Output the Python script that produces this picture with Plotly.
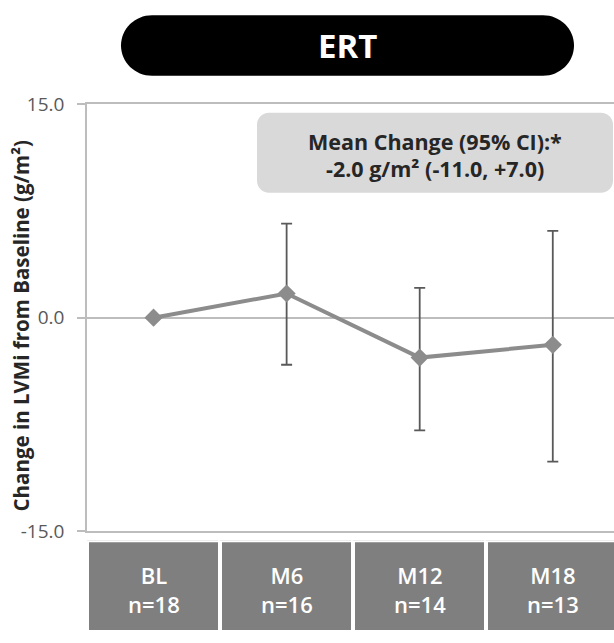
import plotly.graph_objects as go

# ---------------- data ----------------
categories = ["BL", "M6", "M12", "M18"]
n_values = [18, 16, 14, 13]
mean_change = [0.0, 1.7, -2.8, -1.9]
ci_upper = [0.0, 6.6, 2.1, 6.1]
ci_lower = [0.0, -3.3, -7.9, -10.1]
y_ticks = [-15, 0, 15]
y_tick_labels = ["-15.0", "0.0", "15.0"]
panel_title = "ERT"
y_title = "Change in LVMi from Baseline (g/m²)"
summary_line1 = "Mean Change (95% CI):*"
summary_line2 = "-2.0 g/m² (-11.0, +7.0)"

err_plus = [u - m for u, m in zip(ci_upper, mean_change)]
err_minus = [m - l for m, l in zip(mean_change, ci_lower)]

# ---------------- layout helpers ----------------
W, H = 614, 643
ML, MR, MT, MB = 87, 0, 104, 0
PW, PH = W - ML - MR, H - MT - MB
FONT = "Open Sans"


def px(x):
    return (x - ML) / PW


def py(y):
    return (H - MB - y) / PH


def rounded_rect_path(x0, y0, x1, y1, r):
    k = 0.5523 * r
    pts = [
        ("M", [(x0 + r, y0)]),
        ("L", [(x1 - r, y0)]),
        ("C", [(x1 - r + k, y0), (x1, y0 + r - k), (x1, y0 + r)]),
        ("L", [(x1, y1 - r)]),
        ("C", [(x1, y1 - r + k), (x1 - r + k, y1), (x1 - r, y1)]),
        ("L", [(x0 + r, y1)]),
        ("C", [(x0 + r - k, y1), (x0, y1 - r + k), (x0, y1 - r)]),
        ("L", [(x0, y0 + r)]),
        ("C", [(x0, y0 + r - k), (x0 + r - k, y0), (x0 + r, y0)]),
    ]
    s = ""
    for cmd, ps in pts:
        s += cmd + " " + " ".join(f"{px(a):.5f},{py(b):.5f}" for a, b in ps) + " "
    return s + "Z"


main_bottom = 542
box_top = 551

fig = go.Figure()

# Category label boxes (lower subplot)
fig.add_trace(go.Bar(
    x=categories, y=[1] * len(categories), base=0, width=1,
    marker=dict(color="#7f7f7f", line=dict(color="white", width=4)),
    xaxis="x2", yaxis="y2", hoverinfo="skip", showlegend=False,
))

# Main line with asymmetric CI error bars
fig.add_trace(go.Scatter(
    x=categories, y=mean_change, mode="lines+markers",
    line=dict(color="#8c8c8c", width=4),
    marker=dict(symbol="diamond", size=14, color="#8c8c8c"),
    error_y=dict(type="data", symmetric=False, array=err_plus, arrayminus=err_minus,
                 color="#595959", thickness=1.8, width=5.5),
    showlegend=False,
))

annotations = []
for c, n in zip(categories, n_values):
    annotations.append(dict(
        x=c, y=0.47, xref="x2", yref="y2", text=f"{c}<br>n={n}", showarrow=False,
        font=dict(family=FONT, size=22, color="white", weight=600), align="center",
        xanchor="center", yanchor="middle",
    ))

annotations.append(dict(
    x=px(347.5), y=py(44), xref="paper", yref="paper", text=f"<b>{panel_title}</b>",
    showarrow=False, font=dict(family=FONT, size=33, color="white"),
    xanchor="center", yanchor="middle",
))

annotations.append(dict(
    x=px(435), y=py(142), xref="paper", yref="paper", text=f"<b>{summary_line1}</b>",
    showarrow=False, font=dict(family=FONT, size=21.5, color="#262626"),
    xanchor="center", yanchor="middle",
))
annotations.append(dict(
    x=px(435), y=py(170), xref="paper", yref="paper", text=f"<b>{summary_line2}</b>",
    showarrow=False, font=dict(family=FONT, size=21.5, color="#262626"),
    xanchor="center", yanchor="middle",
))

annotations.append(dict(
    x=px(21), y=py(332), xref="paper", yref="paper", text=f"<b>{y_title}</b>",
    showarrow=False, textangle=-90, font=dict(family=FONT, size=20.5, color="#262626"),
    xanchor="center", yanchor="middle",
))

shapes = [
    dict(type="path", xref="paper", yref="paper",
         path=rounded_rect_path(121, 13, 574, 75, 31),
         fillcolor="black", line=dict(width=0), layer="above"),
    dict(type="path", xref="paper", yref="paper",
         path=rounded_rect_path(257, 113, 613, 195, 12),
         fillcolor="#d9d9d9", line=dict(width=0), layer="above"),
]

fig.update_layout(
    width=W, height=H,
    margin=dict(l=ML, r=MR, t=MT, b=MB, pad=0),
    paper_bgcolor="white", plot_bgcolor="white",
    font=dict(family=FONT),
    xaxis=dict(domain=[0, 1], anchor="y", range=[-0.5, 3.46], showticklabels=False,
               ticks="", showgrid=False, zeroline=False,
               showline=True, mirror=True, linecolor="#bdbdbd", linewidth=1.5),
    yaxis=dict(domain=[py(main_bottom), 1], anchor="x", range=[-15, 15],
               tickvals=y_ticks, ticktext=y_tick_labels,
               tickfont=dict(family=FONT, size=19, color="#595959"),
               ticks="outside", ticklen=8, tickcolor="#bdbdbd", tickwidth=1.5,
               ticklabelstandoff=9,
               showgrid=True, gridcolor="#bdbdbd", gridwidth=1.5,
               zeroline=False, showline=True, linecolor="#bdbdbd", linewidth=1.5),
    xaxis2=dict(domain=[0, 1], anchor="y2", matches="x", visible=False),
    yaxis2=dict(domain=[0, py(box_top)], anchor="x2", range=[0.03, 1], visible=False),
    annotations=annotations,
    shapes=shapes,
    bargap=0,
)

fig.write_html("out.html")
